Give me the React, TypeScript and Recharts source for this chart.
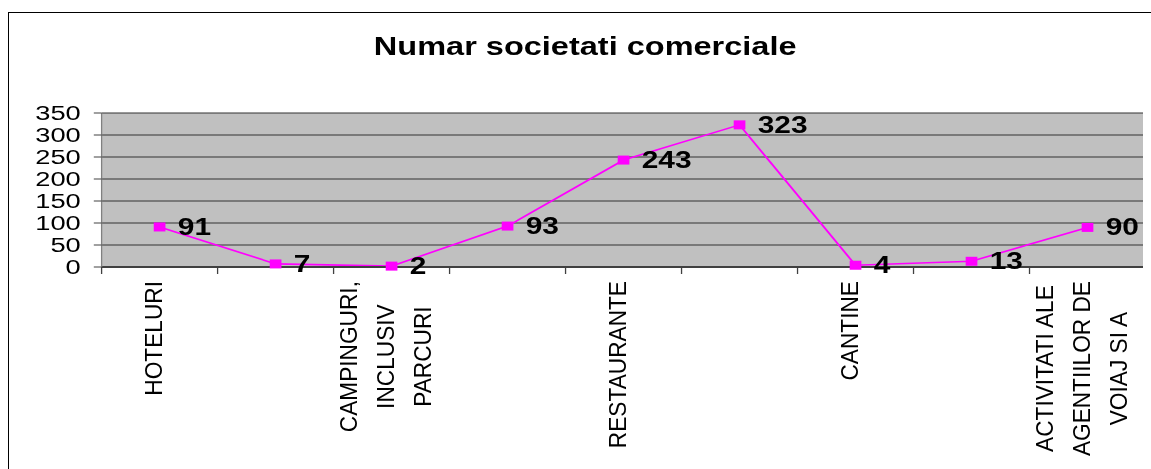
import React from "react";
import {
  LineChart,
  Line,
  XAxis,
  YAxis,
  CartesianGrid,
  ReferenceLine,
  LabelList,
} from "recharts";

const title = "Numar societati comerciale";

// category labels as they are wrapped under the axis (odd ones are not shown)
const categoryLines: string[][] = [
  ["HOTELURI"],
  [],
  ["CAMPINGURI,", "INCLUSIV", "PARCURI"],
  [],
  ["RESTAURANTE"],
  [],
  ["CANTINE"],
  [],
  ["ACTIVITATI ALE", "AGENTIILOR DE", "VOIAJ SI A"],
];

const values = [91, 7, 2, 93, 243, 323, 4, 13, 90];

const yTicks = [0, 50, 100, 150, 200, 250, 300, 350];

const FONT = "'Liberation Sans', Arial, Helvetica, sans-serif";
const MAGENTA = "#FF00FF";

// the whole picture is drawn wider than tall, so the chart is stretched in x
const STRETCH_X = 1.3;
const W = 879;
const H = 450;

const chartData = values.map((value, i) => ({ pos: i + 0.5, value }));
const boundaryTicks = categoryLines.map((_, i) => i).concat(categoryLines.length);
const centerTicks = categoryLines.map((_, i) => i + 0.5);

let ctx: CanvasRenderingContext2D | null = null;
function measure(s: string, font: string) {
  if (!ctx && typeof document !== "undefined") {
    ctx = document.createElement("canvas").getContext("2d");
  }
  if (!ctx) return s.length * 12;
  ctx.font = font;
  return ctx.measureText(s).width;
}

function CategoryTick(props: any) {
  const { x, y, payload } = props;
  const lines = categoryLines[Math.floor(payload.value)] || [];
  if (!lines.length) return <g />;
  const fs = 18;
  const along = 1.26;
  const gap = 28.5;
  const cap = fs * 0.716;
  const longest =
    Math.max(...lines.map((l) => measure(l, `${fs}px ${FONT}`))) * along;
  const cy = y + 2 + longest / 2;
  const cx = x - 4.3;
  return (
    <g>
      {lines.map((l, j) => {
        const bx = cx + (j - (lines.length - 1) / 2) * gap + cap / 2;
        return (
          <text
            key={j}
            transform={`translate(${bx},${cy}) rotate(-90) scale(${along},1)`}
            textAnchor="middle"
            fontFamily={FONT}
            fontSize={fs}
            fill="#000"
          >
            {l}
          </text>
        );
      })}
    </g>
  );
}

function SquareDot(props: any) {
  const { cx, cy } = props;
  if (cx == null || cy == null) return <g />;
  return <rect x={cx - 4.5} y={cy - 4.5} width={9} height={9} fill={MAGENTA} />;
}

function ValueLabel(props: any) {
  const { x, y, value } = props;
  return (
    <text
      x={x + 14}
      y={y}
      dominantBaseline="central"
      fontFamily={FONT}
      fontSize={23}
      fontWeight="bold"
      fill="#000"
    >
      {value}
    </text>
  );
}

export default function App() {
  return (
    <div style={{ position: "relative", width: W, height: H }}>
      <div
        style={{
          position: "fixed",
          left: 8,
          top: 12,
          right: -20,
          bottom: -20,
          borderTop: "1px solid #000",
          borderLeft: "1px solid #000",
        }}
      />
      <div
        style={{
          position: "relative",
          width: W,
          height: H,
          transform: `scaleX(${STRETCH_X})`,
          transformOrigin: "0 0",
        }}
      >
        <div
          style={{
            position: "absolute",
            left: 144,
            width: 600,
            top: 26,
            textAlign: "center",
            fontFamily: FONT,
            fontSize: 25,
            fontWeight: "bold",
            lineHeight: "25px",
            color: "#000",
          }}
        >
          {title}
        </div>
        <LineChart
          width={W}
          height={H}
          data={chartData}
          margin={{ top: 105, right: 4, bottom: 0, left: 0 }}
        >
          <CartesianGrid
            xAxisId="marks"
            vertical={false}
            stroke="#333"
            fill="#C0C0C0"
          />
          <XAxis
            xAxisId="marks"
            type="number"
            dataKey="pos"
            domain={[0, categoryLines.length]}
            ticks={boundaryTicks}
            interval={0}
            height={12}
            tickSize={7}
            tick={() => <g />}
            axisLine={{ stroke: "#404040", strokeWidth: 2 }}
            tickLine={{ stroke: "#404040" }}
          />
          <XAxis
            xAxisId="names"
            type="number"
            dataKey="pos"
            domain={[0, categoryLines.length]}
            ticks={centerTicks}
            interval={0}
            height={179}
            tickSize={0}
            tickMargin={0}
            axisLine={false}
            tickLine={false}
            tick={<CategoryTick />}
          />
          <YAxis
            domain={[0, 350]}
            ticks={yTicks}
            interval={0}
            width={72}
            tickSize={6}
            tickMargin={10}
            axisLine={{ stroke: "#808080" }}
            tickLine={{ stroke: "#404040" }}
            tick={{ fill: "#000", fontSize: 21, fontFamily: FONT }}
          />
          <ReferenceLine
            xAxisId="marks"
            x={categoryLines.length}
            stroke="#808080"
            strokeWidth={3}
          />
          <Line
            xAxisId="marks"
            type="linear"
            dataKey="value"
            stroke={MAGENTA}
            strokeWidth={1.6}
            dot={<SquareDot />}
            activeDot={false}
            isAnimationActive={false}
          >
            <LabelList dataKey="value" content={<ValueLabel />} />
          </Line>
        </LineChart>
      </div>
    </div>
  );
}
